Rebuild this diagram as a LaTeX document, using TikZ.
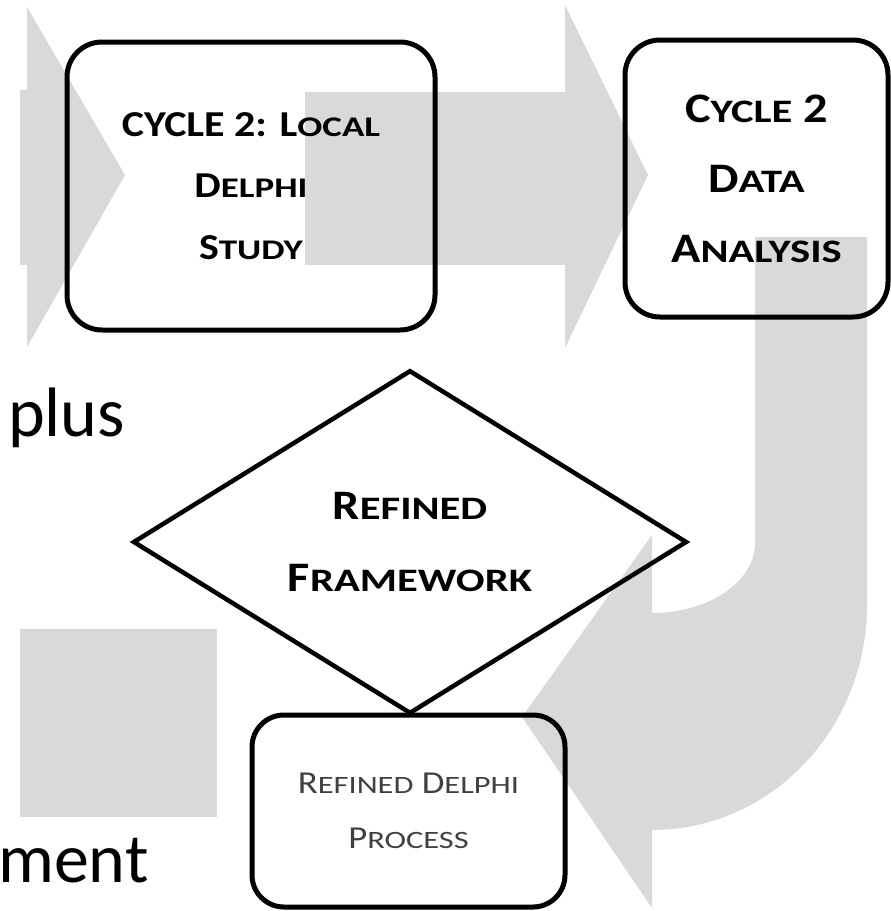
\documentclass[tikz,border=0pt]{standalone}
\usepackage{fontspec}
\setmainfont{Carlito}
\newfontfamily\capfont[FakeStretch=1.15]{Carlito}
\newfontfamily\scfont[Scale=0.78,FakeStretch=1.3]{Carlito}
\newcommand\smc[1]{{\scfont #1}}
\usetikzlibrary{shapes.geometric}
\definecolor{arrowgrey}{HTML}{D9D9D9}
\definecolor{softtext}{HTML}{404040}
\begin{document}
\begin{tikzpicture}[x=1pt,y=-1pt,
  box/.style={draw=black, line width=5pt, rounded corners=35pt, inner sep=0pt, align=center},
  greyblock/.style={fill=arrowgrey, draw=none},
  plaintext/.style={font=\fontsize{70}{70}\selectfont, inner sep=0pt, anchor=base west}]
\useasboundingbox (0,0) rectangle (891,911);

% grey block arrows (background)
\path[greyblock] (20,90) rectangle (27,265);
\path[greyblock] (27,7) -- (125,175) -- (27,347) -- cycle;
\path[greyblock] (305,92) rectangle (565,265);
\path[greyblock] (565,5) -- (648,175) -- (565,348) -- cycle;
\path[greyblock] (20,629) rectangle (217,817);
\path[greyblock] (755,237) -- (867,237) -- (867,605)
  arc[start angle=0, end angle=-90, x radius=215pt, y radius=225pt]
  -- (652,908) -- (522,717) -- (652,535) -- (652,613)
  arc[start angle=-90, end angle=0, x radius=103pt, y radius=70pt] -- cycle;

% boxes
\node[box, minimum width=368pt, minimum height=288pt,
  font=\capfont\bfseries\fontsize{36.5}{61.5}\selectfont] (local) at (251,186)
  {CYCLE 2: L\smc{OCAL}\\D\smc{ELPHI}\\S\smc{TUDY}};
\node[box, minimum width=263pt, minimum height=277pt,
  font=\capfont\bfseries\fontsize{42}{70}\selectfont] (analysis) at (756.5,178.5)
  {C\smc{YCLE} 2\\D\smc{ATA}\\A\smc{NALYSIS}};
\node[diamond, draw=black, line width=4.5pt, minimum width=554pt, minimum height=328pt,
  inner sep=0pt, align=center,
  font=\capfont\bfseries\fontsize{42}{72}\selectfont] (framework) at (410,542)
  {R\smc{EFINED}\\F\smc{RAMEWORK}};
\node[box, rounded corners=32pt, minimum width=313pt, minimum height=192pt,
  text=softtext, font=\capfont\fontsize{32}{55}\selectfont] (process) at (408.5,811)
  {R\smc{EFINED} D\smc{ELPHI}\\P\smc{ROCESS}};

% partial words at left
\node[plaintext] (plus) at (8,436) {plus};
\node[plaintext] (ment) at (-2,882) {ment};
\end{tikzpicture}
\end{document}
